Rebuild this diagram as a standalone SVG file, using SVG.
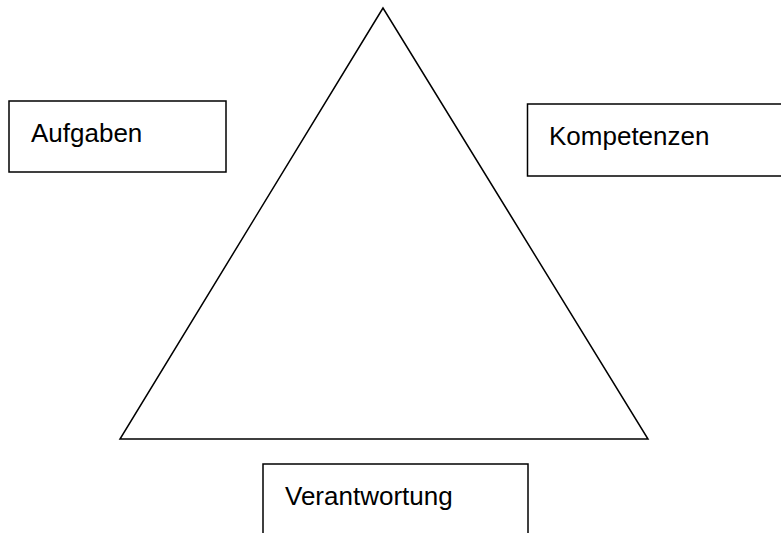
<svg xmlns="http://www.w3.org/2000/svg" width="781" height="533" viewBox="0 0 781 533">
<style>
.box{fill:#fff;stroke:#000;stroke-width:1.5}
.lbl{font-family:"Liberation Sans",Arial,sans-serif;font-size:26px;fill:#000}
.edge{fill:none;stroke:#000;stroke-width:1.5;stroke-linejoin:miter}
</style>
<rect width="781" height="533" fill="#fff"/>
<g id="connectors">
<polygon class="edge" points="383,8 120,439 648,439"/>
</g>
<g id="aufgaben">
<rect class="box" x="9" y="101" width="217" height="71"/>
<text class="lbl" x="31" y="142">Aufgaben</text>
</g>
<g id="kompetenzen">
<rect class="box" x="527.5" y="104" width="270" height="72"/>
<text class="lbl" x="549" y="145">Kompetenzen</text>
</g>
<g id="verantwortung">
<rect class="box" x="263" y="464" width="265" height="90"/>
<text class="lbl" x="285" y="505">Verantwortung</text>
</g>
</svg>
